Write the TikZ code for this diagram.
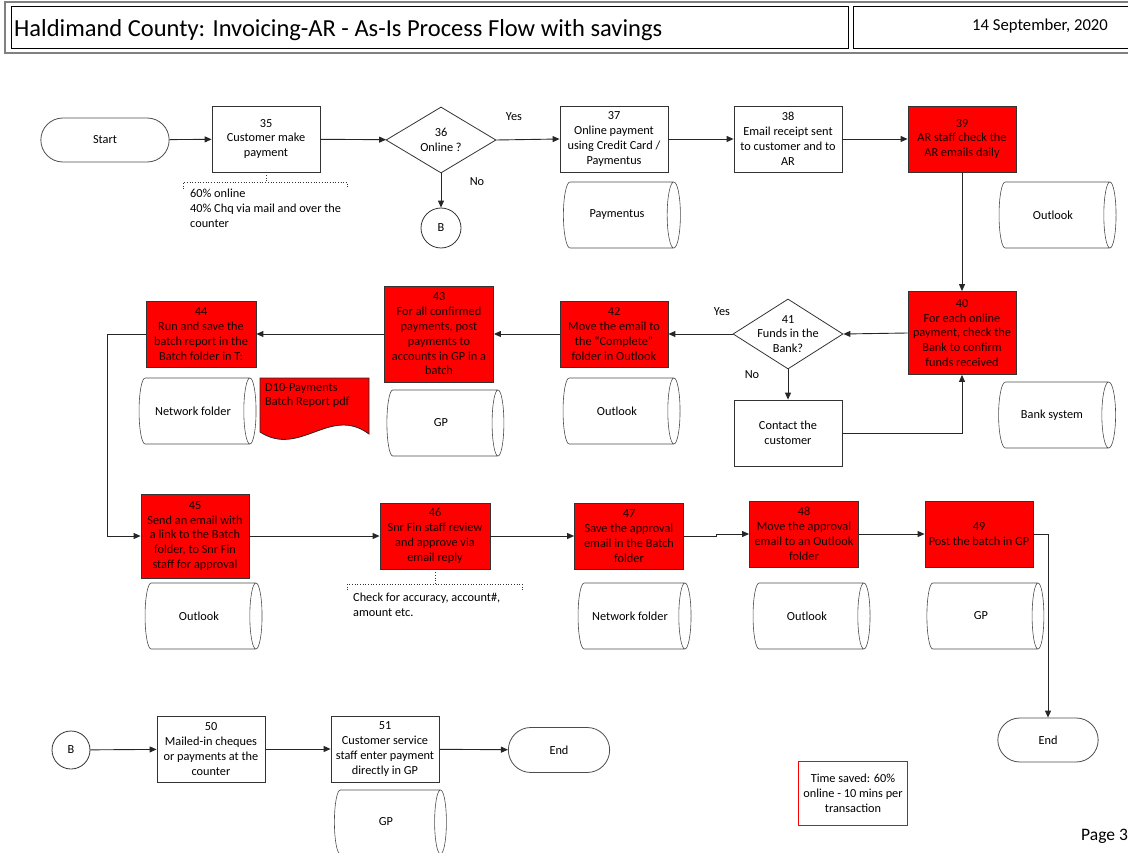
\documentclass[tikz,border=0pt]{standalone}
\usepackage{fontspec}
\setmainfont{Carlito}
\usetikzlibrary{shapes.geometric,shapes.misc,arrows.meta}
\newcommand\nfont{\fontsize{12.3}{14.8}\selectfont}
\begin{document}
\begin{tikzpicture}[x=1pt,y=-1pt,
  line/.style={draw=black!85, line width=0.9pt},
  arr/.style={line, -{Triangle[length=7pt,width=6pt]}},
  proc/.style={rectangle, draw=black!80, line width=0.8pt, fill=white, minimum width=108pt, minimum height=66pt, align=center, inner sep=1pt, font=\nfont},
  redp/.style={proc, fill=red, text=black!90!red},
  term/.style={rounded rectangle, draw=black!70, line width=0.8pt, minimum width=135pt, minimum height=44pt, font=\nfont},
  conn/.style={circle, draw=black!80, line width=0.8pt, minimum size=40pt, inner sep=0pt, font=\nfont},
  dec/.style={diamond, draw=black!80, line width=0.8pt, minimum width=110pt, minimum height=66pt, inner sep=0pt},
  db/.style={cylinder, draw=black!70, line width=0.6pt, minimum height=117pt, minimum width=66pt, aspect=0.8, font=\nfont},
  lbl/.style={font=\nfont, align=center},
  note/.style={font=\nfont, align=left, anchor=north west, inner sep=0pt},
  brk/.style={draw=black!80, line width=0.7pt, dotted},
]
\useasboundingbox (0,0) rectangle (1128,853);

% header
\draw[gray, line width=1.4pt] (5,2) rectangle (1140,53);
\draw[black, line width=1pt] (11,7) rectangle (848,49);
\draw[black, line width=1pt] (853,7) rectangle (1140,49);
\node[anchor=west, font=\fontsize{24.5}{28}\selectfont, inner sep=0pt] (title) at (14,30) {Haldimand County: Invoicing-AR - As-Is Process Flow with savings};
\node[font=\fontsize{16.7}{19}\selectfont, inner sep=0pt] (date) at (1040,26) {14 September, 2020};

% row 1
\node[term] (start) at (105,140) {Start};
\node[proc] (n35) at (266,139) {35\\Customer make\\payment};
\node[dec, label={[lbl]center:{36\\Online ?}}] (n36) at (441,140) {};
\node[conn] (b1) at (441,228) {B};
\node[proc] (n37) at (614,139) {37\\Online payment\\using Credit Card /\\Paymentus};
\node[db] (c37) at (617,215) {Paymentus};
\node[proc] (n38) at (788,139) {38\\Email receipt sent\\to customer and to\\AR};
\node[redp] (n39) at (962,139) {39\\AR staff check the\\AR emails daily};
\node[db] (c39) at (1053,215) {Outlook};

\node[lbl] (yes36) at (514,117) {Yes};
\node[lbl] (no36) at (477,182) {No};

% note 35
\coordinate (k35) at (266,182);
\draw[brk] (n35.south) -- (k35);
\draw[brk] (183,189) -- (183,182) -- (347,182) -- (347,189);
\node[note] (t35) at (190,189) {60\% online\\40\% Chq via mail and over the\\counter};

% row 2
\node[redp, minimum height=83pt] (n40) at (962,333) {40\\For each online\\payment, check the\\Bank to confirm\\funds received};
\node[db] (c40) at (1052,415) {Bank system};
\node[dec, minimum width=110pt, minimum height=70pt, label={[lbl]center:{41\\Funds in the\\Bank?}}] (n41) at (788,334) {};
\node[proc] (contact) at (788,433) {Contact the\\customer};
\node[lbl] (yes41) at (722,312) {Yes};
\node[lbl] (no41) at (752,375) {No};
\node[redp] (n42) at (614,334) {42\\Move the email to\\the ``Complete''\\folder in Outlook};
\node[db] (c42) at (617,411) {Outlook};
\node[redp, minimum width=109pt, minimum height=96pt] (n43) at (439,334) {43\\For all confirmed\\payments, post\\payments to\\accounts in GP in a\\batch};
\node[db] (c43) at (441,423) {GP};
\node[redp, minimum width=110pt] (n44) at (201,334) {44\\Run and save the\\batch report in the\\Batch folder in T:};
\node[db] (c44) at (193,411) {Network folder};

% document shape
\draw[draw=black!85, line width=0.8pt, fill=red] (260,378) -- (369,378) -- (369,434) .. controls (330,405) and (300,458) .. (260,432) -- cycle;
\node[note, text=black!90!red] (doc) at (265,383) {D10-Payments\\Batch Report pdf};

% row 3
\node[redp, minimum height=84pt] (n45) at (195,536) {45\\Send an email with\\a link to the Batch\\folder, to Snr Fin\\staff for approval};
\node[db] (c45) at (199,616) {Outlook};
\node[redp, minimum width=110pt] (n46) at (435,536) {46\\Snr Fin staff review\\and approve via\\email reply};
\coordinate (k46) at (435,584);
\draw[brk] (n46.south) -- (k46);
\draw[brk] (347,590) -- (347,584) -- (522,584) -- (522,590);
\node[note] (t46) at (353,593) {Check for accuracy, account\#,\\amount etc.};
\node[redp, minimum width=109pt] (n47) at (629,536) {47\\Save the approval\\email in the Batch\\folder};
\node[db, minimum height=113pt] (c47) at (630,616) {Network folder};
\node[redp, minimum width=109pt] (n48) at (804,534) {48\\Move the approval\\email to an Outlook\\folder};
\node[db] (c48) at (807,616) {Outlook};
\node[redp] (n49) at (979,534) {49\\Post the batch in GP};
\node[db] (c49) at (981,616) {GP};
\node[term, minimum width=107pt] (end2) at (1048,740) {End};

% row 4
\node[conn, minimum size=38pt] (b2) at (71,750) {B};
\node[proc] (n50) at (211,749) {50\\Mailed-in cheques\\or payments at the\\counter};
\node[proc] (n51) at (385,749) {51\\Customer service\\staff enter payment\\directly in GP};
\node[db, minimum height=112pt, minimum width=64pt] (c51) at (386,822) {GP};
\node[term, minimum width=108pt, minimum height=45pt] (end1) at (559,750) {End};

\node[draw=red, line width=0.8pt, minimum width=109pt, minimum height=64pt, align=center, font=\nfont] (saved) at (853,793) {Time saved: 60\%\\online - 10 mins per\\transaction};
\node[anchor=west, font=\fontsize{17.5}{20}\selectfont, inner sep=0pt] (page) at (1081,836) {Page 3};

% connectors
\draw[arr] (start) -- (n35);
\draw[arr] (n35) -- (n36);
\draw[arr] (n36.east) -- (n37.west);
\draw[arr] (n36.south) -- (b1.north);
\draw[arr] (n37) -- (n38);
\draw[arr] (n38) -- (n39);
\draw[arr] (n39.south) -- (n40.north);
\draw[arr] (n40.west) -- (n41.east);
\draw[arr] (n41.west) -- (n42.east);
\draw[arr] (n41.south) -- (contact.north);
\draw[arr] (contact.east) -| (n40.south);
\draw[arr] (n42.west) -- (n43.east);
\draw[arr] (n43.west) -- (n44.east);
\draw[arr] (n44.west) -- ++(-38,0) |- (n45.west);
\draw[arr] (n45.east) -- (n46.west);
\draw[arr] (n46.east) -- (n47.west);
\draw[arr] (n47.east) -- ++(33,0) |- (n48.west);
\draw[arr] (n48.east) -- (n49.west);
\draw[arr] (n49.east) -| (end2.north);
\draw[arr] (b2) -- (n50);
\draw[arr] (n50) -- (n51);
\draw[arr] (n51) -- (end1);
\end{tikzpicture}
\end{document}
